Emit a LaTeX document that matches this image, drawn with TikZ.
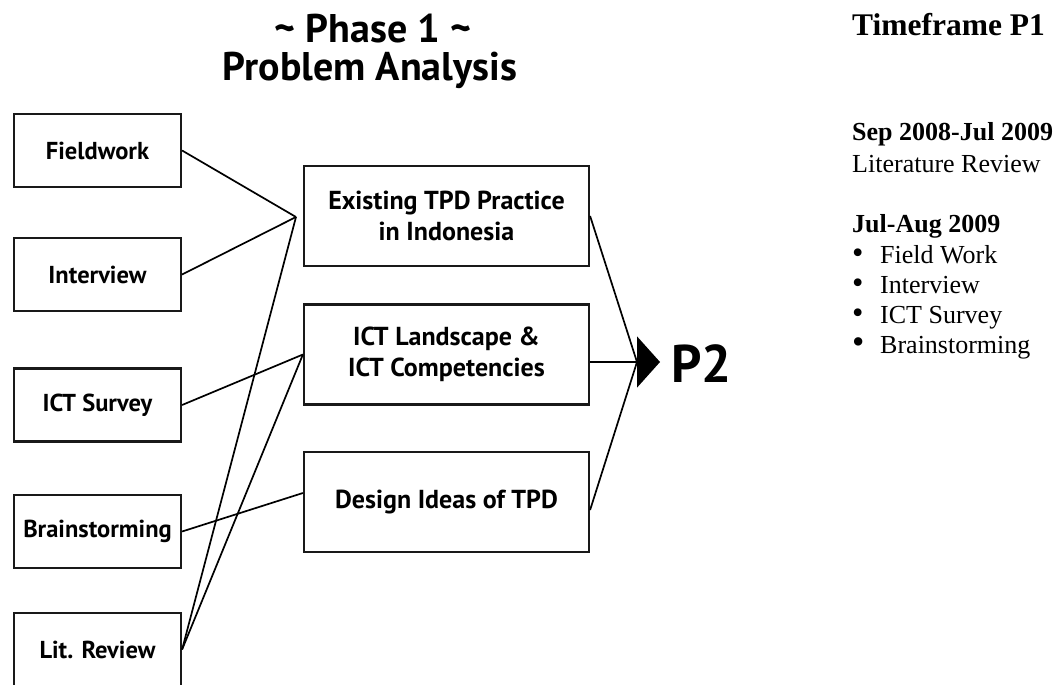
\documentclass[tikz,border=0pt]{standalone}
\usepackage{fontspec}
\setmainfont{Liberation Serif}
\setsansfont{PT Sans}
\usetikzlibrary{positioning,arrows.meta}
\begin{document}
\begin{tikzpicture}
  [x=1pt, y=-1pt, font=\sffamily\bfseries,
  box/.style={draw=black!90, line width=2.2pt, align=center, inner sep=0pt},
  lbox/.style={box, minimum width=167pt, minimum height=73pt,
    font=\sffamily\bfseries\fontsize{24.5}{28}\selectfont},
  mbox/.style={box, minimum width=285pt, minimum height=100pt,
    font=\sffamily\bfseries\fontsize{26}{31}\selectfont},
  link/.style={draw=black, line width=1.7pt},
  head/.style={anchor=base, inner sep=0pt, font=\sffamily\bfseries\fontsize{40}{40}\selectfont},
  side/.style={anchor=base west, inner sep=0pt, font=\rmfamily\fontsize{26}{30}\selectfont}]
  \useasboundingbox (0,0) rectangle (1061,685);
  \clip (0,0) rectangle (1061,685);

  \node[head] (phase) at (373,43) {\textasciitilde\ Phase 1 \textasciitilde};
  \node[head] (prob) at (370,81) {Problem Analysis};

  \node[lbox] (field) at (97.5,150.5) {Fieldwork};
  \node[lbox] (intv) at (97.5,274.5) {Interview};
  \node[lbox] (survey) at (97.5,405) {ICT Survey};
  \node[lbox] (brain) at (97.5,531.5) {Brainstorming};
  \node[lbox] (lit) at (97.5,649.5) {Lit. Review};

  \node[mbox] (exist) at (446.5,216) {Existing TPD Practice\\in Indonesia};
  \node[mbox] (ict) at (446.5,354.5) {ICT Landscape \&\\ICT Competencies};
  \node[mbox] (ideas) at (446.5,502) {Design Ideas of TPD};

  \coordinate (hub) at (296,217);
  \coordinate (join) at (637,362);
  \coordinate (tip) at (660,362);

  \draw[link] (field.east) -- (hub);
  \draw[link] (intv.east) -- (hub);
  \draw[link] (lit.east) -- (hub);
  \draw[link] (survey.east) -- (ict.west);
  \draw[link] (lit.east) -- (ict.west);
  \draw[link] (brain.east) -- ([yshift=9pt]ideas.west);

  \draw[link] (exist.east) -- (join);
  \draw[link] ([yshift=-8pt]ideas.east) -- (join);
  \draw[link, -{Triangle[length=23pt,width=51pt]}] (ict.east |- join) -- (tip);
  \node[anchor=base west, inner sep=0pt, font=\sffamily\bfseries\fontsize{53}{53}\selectfont]
    (p2) at (671,382) {P2};

  \node[side, font=\rmfamily\bfseries\fontsize{31.5}{30}\selectfont] (tf) at (852,36) {Timeframe P1};
  \node[side, font=\rmfamily\bfseries\fontsize{26}{30}\selectfont] (sep) at (852,140) {Sep 2008-Jul 2009};
  \node[side] (litrev) at (852,172) {Literature Review};
  \node[side, font=\rmfamily\bfseries\fontsize{26}{30}\selectfont] (jul) at (852,232) {Jul-Aug 2009};
  \node[side] (b1) at (852,263) {\makebox[28pt][l]{\smash{\scalebox{1.25}{\textbullet}}}Field Work};
  \node[side] (b2) at (852,293) {\makebox[28pt][l]{\smash{\scalebox{1.25}{\textbullet}}}Interview};
  \node[side] (b3) at (852,323) {\makebox[28pt][l]{\smash{\scalebox{1.25}{\textbullet}}}ICT Survey};
  \node[side] (b4) at (852,353) {\makebox[28pt][l]{\smash{\scalebox{1.35}{\textbullet}}}Brainstorming};
\end{tikzpicture}
\end{document}
